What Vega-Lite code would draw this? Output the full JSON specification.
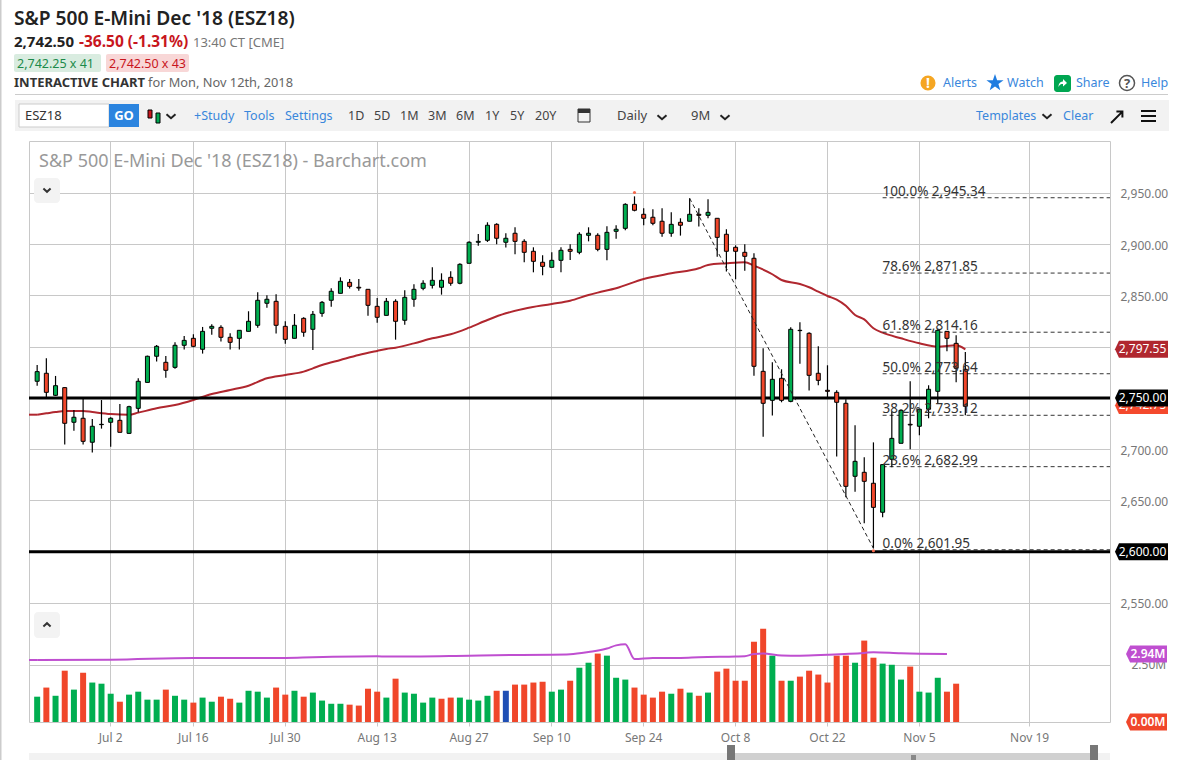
{"$schema":"https://vega.github.io/schema/vega-lite/v6.json","width":1081,"height":581,"autosize":{"type":"none"},"padding":{"left":29,"top":141,"right":72,"bottom":38},"background":"white","config":{"font":"Noto Sans","view":{"stroke":"#c8c8c8"}},
"datasets":{
"bars":[
{"date":"Jun 20","o":2766.3,"h":2782.2,"l":2762.0,"c":2775.7,"v":1.11,"dir":"up","vdir":"up"},
{"date":"Jun 21","o":2774.1,"h":2788.7,"l":2750.6,"c":2755.5,"v":1.51,"dir":"down","vdir":"down"},
{"date":"Jun 22","o":2752.6,"h":2771.5,"l":2752.0,"c":2762.0,"v":1.15,"dir":"up","vdir":"up"},
{"date":"Jun 25","o":2760.1,"h":2760.4,"l":2704.5,"c":2725.3,"v":2.25,"dir":"down","vdir":"down"},
{"date":"Jun 26","o":2726.3,"h":2738.3,"l":2718.1,"c":2731.2,"v":1.42,"dir":"up","vdir":"up"},
{"date":"Jun 27","o":2730.2,"h":2749.7,"l":2704.5,"c":2707.7,"v":2.16,"dir":"down","vdir":"down"},
{"date":"Jun 28","o":2706.8,"h":2729.5,"l":2696.7,"c":2722.4,"v":1.73,"dir":"up","vdir":"up"},
{"date":"Jun 29","o":2724.0,"h":2748.0,"l":2720.1,"c":2724.3,"v":1.68,"dir":"up","vdir":"up"},
{"date":"Jul 2","o":2726.3,"h":2731.2,"l":2702.5,"c":2730.2,"v":1.24,"dir":"up","vdir":"up"},
{"date":"Jul 3","o":2728.2,"h":2744.2,"l":2716.5,"c":2716.5,"v":0.89,"dir":"down","vdir":"down"},
{"date":"Jul 5","o":2715.5,"h":2742.5,"l":2715.2,"c":2741.5,"v":1.20,"dir":"up","vdir":"up"},
{"date":"Jul 6","o":2739.9,"h":2769.2,"l":2736.0,"c":2766.3,"v":1.33,"dir":"up","vdir":"up"},
{"date":"Jul 9","o":2765.2,"h":2791.3,"l":2765.2,"c":2790.7,"v":0.98,"dir":"up","vdir":"up"},
{"date":"Jul 10","o":2790.7,"h":2801.7,"l":2785.5,"c":2800.4,"v":0.98,"dir":"up","vdir":"up"},
{"date":"Jul 11","o":2784.8,"h":2791.0,"l":2769.8,"c":2777.0,"v":1.42,"dir":"down","vdir":"down"},
{"date":"Jul 12","o":2779.9,"h":2804.3,"l":2778.6,"c":2801.4,"v":1.15,"dir":"up","vdir":"up"},
{"date":"Jul 13","o":2801.4,"h":2810.5,"l":2797.2,"c":2806.2,"v":0.98,"dir":"up","vdir":"up"},
{"date":"Jul 16","o":2808.2,"h":2812.1,"l":2799.4,"c":2800.4,"v":0.85,"dir":"down","vdir":"down"},
{"date":"Jul 17","o":2797.5,"h":2819.3,"l":2793.3,"c":2815.0,"v":1.07,"dir":"up","vdir":"up"},
{"date":"Jul 18","o":2818.0,"h":2821.9,"l":2811.8,"c":2819.9,"v":0.89,"dir":"up","vdir":"up"},
{"date":"Jul 19","o":2818.9,"h":2820.9,"l":2805.0,"c":2809.2,"v":1.11,"dir":"down","vdir":"down"},
{"date":"Jul 20","o":2809.2,"h":2813.1,"l":2797.2,"c":2804.3,"v":1.02,"dir":"down","vdir":"down"},
{"date":"Jul 23","o":2808.2,"h":2816.0,"l":2797.2,"c":2816.0,"v":0.85,"dir":"up","vdir":"up"},
{"date":"Jul 24","o":2815.0,"h":2834.6,"l":2815.0,"c":2824.8,"v":1.37,"dir":"up","vdir":"up"},
{"date":"Jul 25","o":2820.9,"h":2853.1,"l":2818.6,"c":2845.3,"v":1.33,"dir":"up","vdir":"up"},
{"date":"Jul 26","o":2842.4,"h":2850.2,"l":2838.1,"c":2846.3,"v":1.07,"dir":"up","vdir":"up"},
{"date":"Jul 27","o":2844.3,"h":2851.1,"l":2812.8,"c":2820.9,"v":1.51,"dir":"down","vdir":"down"},
{"date":"Jul 30","o":2819.9,"h":2824.8,"l":2803.0,"c":2807.2,"v":1.20,"dir":"down","vdir":"down"},
{"date":"Jul 31","o":2808.2,"h":2831.9,"l":2808.2,"c":2820.9,"v":1.37,"dir":"up","vdir":"up"},
{"date":"Aug 1","o":2827.7,"h":2828.7,"l":2809.8,"c":2814.1,"v":1.11,"dir":"down","vdir":"down"},
{"date":"Aug 2","o":2817.0,"h":2834.9,"l":2796.8,"c":2831.6,"v":1.29,"dir":"up","vdir":"up"},
{"date":"Aug 3","o":2832.6,"h":2844.6,"l":2829.3,"c":2843.3,"v":0.94,"dir":"up","vdir":"up"},
{"date":"Aug 6","o":2845.3,"h":2857.0,"l":2839.1,"c":2854.1,"v":0.80,"dir":"up","vdir":"up"},
{"date":"Aug 7","o":2852.1,"h":2867.7,"l":2852.1,"c":2863.8,"v":0.80,"dir":"up","vdir":"up"},
{"date":"Aug 8","o":2862.8,"h":2866.1,"l":2856.7,"c":2858.9,"v":0.76,"dir":"down","vdir":"down"},
{"date":"Aug 9","o":2858.0,"h":2866.1,"l":2854.7,"c":2857.3,"v":0.72,"dir":"down","vdir":"down"},
{"date":"Aug 10","o":2856.0,"h":2856.0,"l":2830.3,"c":2840.4,"v":1.46,"dir":"down","vdir":"down"},
{"date":"Aug 13","o":2839.4,"h":2847.6,"l":2823.5,"c":2828.7,"v":1.33,"dir":"down","vdir":"down"},
{"date":"Aug 14","o":2830.6,"h":2847.6,"l":2830.6,"c":2844.3,"v":1.07,"dir":"up","vdir":"up"},
{"date":"Aug 15","o":2844.3,"h":2846.3,"l":2806.9,"c":2824.8,"v":1.90,"dir":"down","vdir":"down"},
{"date":"Aug 16","o":2825.8,"h":2855.0,"l":2821.5,"c":2848.2,"v":1.29,"dir":"up","vdir":"up"},
{"date":"Aug 17","o":2846.3,"h":2860.9,"l":2839.1,"c":2856.0,"v":1.24,"dir":"up","vdir":"up"},
{"date":"Aug 20","o":2857.0,"h":2864.8,"l":2855.0,"c":2861.9,"v":0.85,"dir":"up","vdir":"up"},
{"date":"Aug 21","o":2859.9,"h":2877.5,"l":2856.7,"c":2864.8,"v":1.07,"dir":"up","vdir":"up"},
{"date":"Aug 22","o":2858.0,"h":2871.6,"l":2850.8,"c":2864.8,"v":1.02,"dir":"up","vdir":"down"},
{"date":"Aug 23","o":2867.7,"h":2873.6,"l":2859.6,"c":2861.9,"v":1.07,"dir":"down","vdir":"down"},
{"date":"Aug 24","o":2861.9,"h":2881.4,"l":2860.9,"c":2880.4,"v":1.07,"dir":"up","vdir":"up"},
{"date":"Aug 27","o":2881.4,"h":2902.8,"l":2881.4,"c":2901.9,"v":0.98,"dir":"up","vdir":"up"},
{"date":"Aug 28","o":2901.9,"h":2910.0,"l":2898.6,"c":2902.8,"v":0.94,"dir":"up","vdir":"up"},
{"date":"Aug 29","o":2903.8,"h":2921.4,"l":2902.2,"c":2918.5,"v":1.15,"dir":"up","vdir":"up"},
{"date":"Aug 30","o":2919.4,"h":2920.4,"l":2899.9,"c":2905.8,"v":1.37,"dir":"down","vdir":"down"},
{"date":"Aug 31","o":2901.9,"h":2910.7,"l":2896.7,"c":2905.8,"v":1.37,"dir":"up","vdir":"flat"},
{"date":"Sep 4","o":2910.7,"h":2916.5,"l":2890.2,"c":2902.8,"v":1.64,"dir":"down","vdir":"down"},
{"date":"Sep 5","o":2902.8,"h":2904.8,"l":2882.4,"c":2892.1,"v":1.64,"dir":"down","vdir":"down"},
{"date":"Sep 6","o":2893.1,"h":2897.0,"l":2872.6,"c":2883.3,"v":1.73,"dir":"down","vdir":"down"},
{"date":"Sep 7","o":2882.4,"h":2889.2,"l":2869.7,"c":2878.4,"v":1.77,"dir":"down","vdir":"down"},
{"date":"Sep 10","o":2877.5,"h":2892.1,"l":2877.5,"c":2884.3,"v":1.33,"dir":"up","vdir":"up"},
{"date":"Sep 11","o":2884.3,"h":2897.0,"l":2872.6,"c":2894.1,"v":1.42,"dir":"up","vdir":"up"},
{"date":"Sep 12","o":2895.0,"h":2899.9,"l":2884.6,"c":2893.1,"v":1.81,"dir":"down","vdir":"down"},
{"date":"Sep 13","o":2892.1,"h":2911.6,"l":2890.2,"c":2909.7,"v":2.38,"dir":"up","vdir":"up"},
{"date":"Sep 14","o":2908.7,"h":2916.5,"l":2902.8,"c":2910.7,"v":2.60,"dir":"up","vdir":"up"},
{"date":"Sep 17","o":2908.7,"h":2910.7,"l":2893.1,"c":2895.0,"v":3.00,"dir":"down","vdir":"down"},
{"date":"Sep 18","o":2895.0,"h":2917.5,"l":2884.3,"c":2911.6,"v":2.91,"dir":"up","vdir":"up"},
{"date":"Sep 19","o":2912.6,"h":2918.5,"l":2905.4,"c":2914.6,"v":1.94,"dir":"up","vdir":"up"},
{"date":"Sep 20","o":2915.5,"h":2939.9,"l":2913.6,"c":2938.9,"v":1.86,"dir":"up","vdir":"up"},
{"date":"Sep 21","o":2938.9,"h":2946.7,"l":2932.1,"c":2933.1,"v":1.51,"dir":"down","vdir":"down"},
{"date":"Sep 24","o":2929.2,"h":2935.0,"l":2918.5,"c":2925.3,"v":1.20,"dir":"down","vdir":"down"},
{"date":"Sep 25","o":2926.3,"h":2934.1,"l":2918.5,"c":2920.4,"v":1.07,"dir":"down","vdir":"down"},
{"date":"Sep 26","o":2922.4,"h":2935.0,"l":2907.4,"c":2910.7,"v":1.33,"dir":"down","vdir":"down"},
{"date":"Sep 27","o":2910.7,"h":2931.1,"l":2907.4,"c":2919.4,"v":1.24,"dir":"up","vdir":"up"},
{"date":"Sep 28","o":2921.4,"h":2925.3,"l":2908.4,"c":2918.5,"v":1.46,"dir":"down","vdir":"down"},
{"date":"Oct 1","o":2922.4,"h":2944.8,"l":2922.4,"c":2929.2,"v":1.29,"dir":"up","vdir":"up"},
{"date":"Oct 2","o":2929.2,"h":2935.0,"l":2917.2,"c":2928.2,"v":1.15,"dir":"down","vdir":"down"},
{"date":"Oct 3","o":2928.2,"h":2943.8,"l":2925.3,"c":2931.1,"v":1.29,"dir":"up","vdir":"up"},
{"date":"Oct 4","o":2925.3,"h":2925.3,"l":2887.9,"c":2906.7,"v":2.21,"dir":"down","vdir":"down"},
{"date":"Oct 5","o":2909.7,"h":2914.6,"l":2873.3,"c":2893.1,"v":2.34,"dir":"down","vdir":"down"},
{"date":"Oct 8","o":2897.0,"h":2898.9,"l":2865.8,"c":2893.1,"v":1.81,"dir":"down","vdir":"down"},
{"date":"Oct 9","o":2892.1,"h":2899.9,"l":2874.2,"c":2888.2,"v":1.81,"dir":"down","vdir":"down"},
{"date":"Oct 10","o":2886.3,"h":2891.1,"l":2771.8,"c":2780.9,"v":3.52,"dir":"down","vdir":"down"},
{"date":"Oct 11","o":2776.0,"h":2798.5,"l":2712.3,"c":2744.8,"v":4.09,"dir":"down","vdir":"down"},
{"date":"Oct 12","o":2747.7,"h":2784.8,"l":2732.8,"c":2768.2,"v":2.91,"dir":"up","vdir":"up"},
{"date":"Oct 15","o":2769.2,"h":2778.0,"l":2745.8,"c":2747.7,"v":1.81,"dir":"down","vdir":"down"},
{"date":"Oct 16","o":2746.7,"h":2819.0,"l":2745.8,"c":2817.0,"v":1.81,"dir":"up","vdir":"up"},
{"date":"Oct 17","o":2815.7,"h":2823.8,"l":2783.5,"c":2816.0,"v":1.99,"dir":"up","vdir":"down"},
{"date":"Oct 18","o":2813.1,"h":2814.1,"l":2757.2,"c":2772.1,"v":2.25,"dir":"down","vdir":"down"},
{"date":"Oct 19","o":2774.1,"h":2800.4,"l":2762.4,"c":2767.2,"v":2.08,"dir":"down","vdir":"down"},
{"date":"Oct 22","o":2757.5,"h":2781.9,"l":2750.6,"c":2756.5,"v":1.73,"dir":"down","vdir":"down"},
{"date":"Oct 23","o":2755.5,"h":2757.5,"l":2692.8,"c":2745.8,"v":2.91,"dir":"down","vdir":"down"},
{"date":"Oct 24","o":2744.8,"h":2748.7,"l":2653.1,"c":2663.8,"v":2.91,"dir":"down","vdir":"down"},
{"date":"Oct 25","o":2673.6,"h":2723.3,"l":2658.6,"c":2688.2,"v":2.60,"dir":"up","vdir":"up"},
{"date":"Oct 26","o":2677.5,"h":2692.1,"l":2627.7,"c":2668.7,"v":3.57,"dir":"down","vdir":"down"},
{"date":"Oct 29","o":2666.8,"h":2706.7,"l":2603.3,"c":2643.3,"v":2.82,"dir":"down","vdir":"down"},
{"date":"Oct 30","o":2638.5,"h":2685.3,"l":2633.6,"c":2685.0,"v":2.56,"dir":"up","vdir":"up"},
{"date":"Oct 31","o":2690.2,"h":2736.7,"l":2682.4,"c":2710.6,"v":2.51,"dir":"up","vdir":"up"},
{"date":"Nov 1","o":2705.8,"h":2739.0,"l":2705.8,"c":2738.0,"v":1.86,"dir":"up","vdir":"up"},
{"date":"Nov 2","o":2724.3,"h":2766.3,"l":2699.9,"c":2723.7,"v":2.43,"dir":"down","vdir":"down"},
{"date":"Nov 5","o":2722.4,"h":2739.0,"l":2713.6,"c":2739.0,"v":1.33,"dir":"up","vdir":"up"},
{"date":"Nov 6","o":2739.0,"h":2762.4,"l":2730.2,"c":2758.5,"v":1.29,"dir":"up","vdir":"up"},
{"date":"Nov 7","o":2756.5,"h":2817.0,"l":2744.8,"c":2816.0,"v":1.94,"dir":"up","vdir":"up"},
{"date":"Nov 8","o":2815.0,"h":2815.0,"l":2795.5,"c":2808.2,"v":1.33,"dir":"down","vdir":"down"},
{"date":"Nov 9","o":2803.3,"h":2811.1,"l":2765.3,"c":2779.0,"v":1.68,"dir":"down","vdir":"down"},
{"date":"Nov 12","o":2778.0,"h":2794.9,"l":2733.1,"c":2741.9,"v":null,"dir":"down","vdir":"down"}
],
"priceMA":[
{"date":"Jun 20","ma":2733.7},{"date":"Jun 21","ma":2735.0},{"date":"Jun 22","ma":2736.3},{"date":"Jun 25","ma":2737.3},{"date":"Jun 27","ma":2737.3},{"date":"Jun 28","ma":2736.3},{"date":"Jul 2","ma":2734.4},{"date":"Jul 5","ma":2733.7},{"date":"Jul 6","ma":2735.7},{"date":"Jul 10","ma":2739.9},{"date":"Jul 12","ma":2743.2},{"date":"Jul 16","ma":2748.1},{"date":"Jul 18","ma":2753.9},{"date":"Jul 20","ma":2757.8},{"date":"Jul 24","ma":2762.0},{"date":"Jul 26","ma":2769.2},{"date":"Jul 30","ma":2772.4},{"date":"Aug 1","ma":2775.7},{"date":"Aug 2","ma":2778.9},{"date":"Aug 3","ma":2782.2},{"date":"Aug 7","ma":2787.1},{"date":"Aug 9","ma":2791.9},{"date":"Aug 13","ma":2795.9},{"date":"Aug 14","ma":2797.8},{"date":"Aug 15","ma":2799.1},{"date":"Aug 17","ma":2803.3},{"date":"Aug 21","ma":2808.2},{"date":"Aug 23","ma":2812.1},{"date":"Aug 27","ma":2818.6},{"date":"Aug 29","ma":2826.1},{"date":"Aug 31","ma":2832.6},{"date":"Sep 5","ma":2837.1},{"date":"Sep 10","ma":2841.7},{"date":"Sep 12","ma":2844.9},{"date":"Sep 14","ma":2850.5},{"date":"Sep 17","ma":2852.8},{"date":"Sep 19","ma":2857.0},{"date":"Sep 24","ma":2866.1},{"date":"Sep 27","ma":2871.6},{"date":"Oct 2","ma":2876.5},{"date":"Oct 3","ma":2879.8},{"date":"Oct 5","ma":2881.4},{"date":"Oct 9","ma":2882.4},{"date":"Oct 10","ma":2879.1},{"date":"Oct 12","ma":2870.7},{"date":"Oct 15","ma":2865.1},{"date":"Oct 17","ma":2861.2},{"date":"Oct 18","ma":2858.0},{"date":"Oct 19","ma":2853.7},{"date":"Oct 22","ma":2849.5},{"date":"Oct 23","ma":2846.0},{"date":"Oct 24","ma":2840.0},{"date":"Oct 25","ma":2831.0},{"date":"Oct 26","ma":2826.7},{"date":"Oct 29","ma":2818.0},{"date":"Oct 30","ma":2813.7},{"date":"Nov 1","ma":2808.2},{"date":"Nov 5","ma":2803.3},{"date":"Nov 7","ma":2800.1},{"date":"Nov 9","ma":2801.4},{"date":"Nov 12","ma":2797.5}
],
"volMA":[
{"date":"Jun 20","vma":2.72},{"date":"Jul 2","vma":2.73},{"date":"Jul 16","vma":2.81},{"date":"Jul 30","vma":2.81},{"date":"Aug 2","vma":2.84},{"date":"Aug 13","vma":2.88},{"date":"Aug 14","vma":2.87},{"date":"Aug 27","vma":2.91},{"date":"Sep 4","vma":2.94},{"date":"Sep 10","vma":2.95},{"date":"Sep 12","vma":2.97},{"date":"Sep 14","vma":3.07},{"date":"Sep 18","vma":3.22},{"date":"Sep 19","vma":3.36},{"date":"Sep 20","vma":3.41},{"date":"Sep 21","vma":2.76},{"date":"Sep 25","vma":2.81},{"date":"Sep 28","vma":2.81},{"date":"Oct 2","vma":2.84},{"date":"Oct 8","vma":2.87},{"date":"Oct 9","vma":2.88},{"date":"Oct 10","vma":2.98},{"date":"Oct 11","vma":3.00},{"date":"Oct 15","vma":2.92},{"date":"Oct 17","vma":2.91},{"date":"Oct 22","vma":2.95},{"date":"Oct 26","vma":3.03},{"date":"Oct 29","vma":3.06},{"date":"Nov 1","vma":3.01},{"date":"Nov 8","vma":2.98}
],
"levels":[{"p":2750},{"p":2600}],
"fib":[
{"date":"Oct 30","p":2945.34,"label":"100.0% 2,945.34"},
{"date":"Oct 30","p":2871.85,"label":"78.6% 2,871.85"},
{"date":"Oct 30","p":2814.16,"label":"61.8% 2,814.16"},
{"date":"Oct 30","p":2773.64,"label":"50.0% 2,773.64"},
{"date":"Oct 30","p":2733.12,"label":"38.2% 2,733.12"},
{"date":"Oct 30","p":2682.99,"label":"23.6% 2,682.99"},
{"date":"Oct 30","p":2601.95,"label":"0.0% 2,601.95"}
],
"trend":[{"date":"Oct 1","p":2944.8},{"date":"Oct 29","p":2603.3}],
"extremes":[{"date":"Sep 21","p":2950.5},{"date":"Oct 29","p":2601.0}]
},
"layer":[
{"encoding":{"x":{"field":"date","type":"ordinal","title":null,"scale":{"type":"band","paddingInner":0,"paddingOuter":0.815,"align":0.238,"domain":["Jun 20","Jun 21","Jun 22","Jun 25","Jun 26","Jun 27","Jun 28","Jun 29","Jul 2","Jul 3","Jul 5","Jul 6","Jul 9","Jul 10","Jul 11","Jul 12","Jul 13","Jul 16","Jul 17","Jul 18","Jul 19","Jul 20","Jul 23","Jul 24","Jul 25","Jul 26","Jul 27","Jul 30","Jul 31","Aug 1","Aug 2","Aug 3","Aug 6","Aug 7","Aug 8","Aug 9","Aug 10","Aug 13","Aug 14","Aug 15","Aug 16","Aug 17","Aug 20","Aug 21","Aug 22","Aug 23","Aug 24","Aug 27","Aug 28","Aug 29","Aug 30","Aug 31","Sep 4","Sep 5","Sep 6","Sep 7","Sep 10","Sep 11","Sep 12","Sep 13","Sep 14","Sep 17","Sep 18","Sep 19","Sep 20","Sep 21","Sep 24","Sep 25","Sep 26","Sep 27","Sep 28","Oct 1","Oct 2","Oct 3","Oct 4","Oct 5","Oct 8","Oct 9","Oct 10","Oct 11","Oct 12","Oct 15","Oct 16","Oct 17","Oct 18","Oct 19","Oct 22","Oct 23","Oct 24","Oct 25","Oct 26","Oct 29","Oct 30","Oct 31","Nov 1","Nov 2","Nov 5","Nov 6","Nov 7","Nov 8","Nov 9","Nov 12","Nov 13","Nov 14","Nov 15","Nov 16","Nov 17","Nov 18","Nov 19","Nov 20","Nov 21","Nov 22","Nov 23","Nov 24","Nov 25","Nov 26"]},
"axis":{"values":["Jul 2","Jul 16","Jul 30","Aug 13","Aug 27","Sep 10","Sep 24","Oct 8","Oct 22","Nov 5","Nov 19"],"grid":true,"gridColor":"#c8c8c8","domain":false,"tickColor":"#c8c8c8","tickSize":4,"labelAngle":0,"labelColor":"#777777","labelFontSize":12,"labelPadding":6,"labelOverlap":false,"title":null}}},
"resolve":{"scale":{"y":"independent"},"axis":{"y":"independent"}},
"layer":[
{"data":{"name":"bars"},"transform":[{"filter":"isValid(datum.v)"}],"mark":{"type":"bar","size":6},"encoding":{"y":{"field":"v","type":"quantitative","title":null,"scale":{"domain":[0,25.48],"nice":false,"zero":false},"axis":{"values":[2.5],"grid":true,"gridColor":"#c8c8c8","domain":false,"ticks":false,"orient":"right","labelExpr":"format(datum.value,'.2f')+'M'","labelColor":"#777777","labelFontSize":12,"labelPadding":21,"title":null}},"color":{"field":"vdir","type":"nominal","legend":null,"scale":{"domain":["up","down","flat"],"range":["#00ae50","#f0462a","#1f4fb5"]}}}},
{"data":{"name":"volMA"},"mark":{"type":"line","stroke":"#bf4fd0","strokeWidth":2,"interpolate":"monotone"},"encoding":{"order":{"value":null},"y":{"field":"vma","type":"quantitative","scale":{"domain":[0,25.48],"nice":false,"zero":false},"axis":null}}},
{"data":{"values":[{"date":"Jun 20","vma":2.72}]},"mark":{"type":"rule","stroke":"#bf4fd0","strokeWidth":2},"encoding":{"x2":{"value":0},"y":{"field":"vma","type":"quantitative","scale":{"domain":[0,25.48],"nice":false,"zero":false},"axis":null}}},
{"data":{"name":"priceMA"},"mark":{"type":"line","stroke":"#b0272f","strokeWidth":2,"interpolate":"monotone"},"encoding":{"order":{"value":null},"y":{"field":"ma","type":"quantitative","scale":{"domain":[2433.9,3000.7],"nice":false,"zero":false},"axis":{"values":[2550,2600,2650,2700,2750,2800,2850,2900,2950],"format":",.2f","grid":true,"gridColor":"#c8c8c8","domain":false,"ticks":false,"orient":"right","labelColor":"#777777","labelFontSize":12,"labelPadding":10,"labelOffset":1,"title":null}}}},
{"data":{"values":[{"date":"Jun 20","ma":2733.7}]},"mark":{"type":"rule","stroke":"#b0272f","strokeWidth":2},"encoding":{"x2":{"value":0},"y":{"field":"ma","type":"quantitative","scale":{"domain":[2433.9,3000.7],"nice":false,"zero":false},"axis":null}}},
{"data":{"name":"fib"},"mark":{"type":"rule","stroke":"#333333","strokeWidth":1,"strokeDash":[4,3]},"encoding":{"x2":{"value":1081},"y":{"field":"p","type":"quantitative","scale":{"domain":[2433.9,3000.7],"nice":false,"zero":false},"axis":null}}},
{"data":{"name":"levels"},"mark":{"type":"rule","stroke":"#000000","strokeWidth":3},"encoding":{"x":null,"y":{"field":"p","type":"quantitative","scale":{"domain":[2433.9,3000.7],"nice":false,"zero":false},"axis":null}}},
{"data":{"name":"extremes"},"mark":{"type":"point","filled":true,"size":10,"color":"#f4694d","opacity":1},"encoding":{"y":{"field":"p","type":"quantitative","scale":{"domain":[2433.9,3000.7],"nice":false,"zero":false},"axis":null}}},
{"data":{"name":"bars"},"mark":{"type":"rule","stroke":"#000000","strokeWidth":1.2},"encoding":{"y":{"field":"l","type":"quantitative","scale":{"domain":[2433.9,3000.7],"nice":false,"zero":false},"axis":null},"y2":{"field":"h"}}},
{"data":{"name":"bars"},"mark":{"type":"bar","size":4,"stroke":"#000000","strokeWidth":1},"encoding":{"y":{"field":"o","type":"quantitative","scale":{"domain":[2433.9,3000.7],"nice":false,"zero":false},"axis":null},"y2":{"field":"c"},"color":{"field":"dir","type":"nominal","legend":null,"scale":{"domain":["up","down","flat"],"range":["#00ae50","#f0462a","#1f4fb5"]}}}},
{"data":{"name":"trend"},"mark":{"type":"line","stroke":"#222222","strokeWidth":1,"strokeDash":[4,3]},"encoding":{"order":{"value":null},"y":{"field":"p","type":"quantitative","scale":{"domain":[2433.9,3000.7],"nice":false,"zero":false},"axis":null}}},
{"data":{"name":"fib"},"mark":{"type":"text","align":"left","baseline":"middle","dy":-6,"fontSize":13.5,"color":"#333333"},"encoding":{"text":{"field":"label"},"y":{"field":"p","type":"quantitative","scale":{"domain":[2433.9,3000.7],"nice":false,"zero":false},"axis":null}}},
{"data":{"values":[{"label":"2,742.75","p":2742.75}]},"mark":{"type":"point","filled":true,"opacity":1,"size":2809,"fill":"#f4492d","stroke":null,"shape":"M-1,0 L-0.85,-0.32 L1,-0.32 L1,0.32 L-0.85,0.32 Z"},"encoding":{"x":{"value":1112.5},"y":{"field":"p","type":"quantitative","scale":{"domain":[2433.9,3000.7],"nice":false,"zero":false},"axis":null}}},
{"data":{"values":[{"label":"2,742.75","p":2742.75}]},"mark":{"type":"text","fontSize":12,"color":"white"},"encoding":{"x":{"value":1113.5},"text":{"field":"label"},"y":{"field":"p","type":"quantitative","scale":{"domain":[2433.9,3000.7],"nice":false,"zero":false},"axis":null}}},
{"data":{"values":[{"label":"2,750.00","p":2750}]},"mark":{"type":"point","filled":true,"opacity":1,"size":2809,"fill":"#000000","stroke":null,"shape":"M-1,0 L-0.85,-0.32 L1,-0.32 L1,0.32 L-0.85,0.32 Z"},"encoding":{"x":{"value":1112.5},"y":{"field":"p","type":"quantitative","scale":{"domain":[2433.9,3000.7],"nice":false,"zero":false},"axis":null}}},
{"data":{"values":[{"label":"2,750.00","p":2750}]},"mark":{"type":"text","fontSize":12,"color":"white"},"encoding":{"x":{"value":1113.5},"text":{"field":"label"},"y":{"field":"p","type":"quantitative","scale":{"domain":[2433.9,3000.7],"nice":false,"zero":false},"axis":null}}},
{"data":{"values":[{"label":"2,797.55","p":2797.55}]},"mark":{"type":"point","filled":true,"opacity":1,"size":2809,"fill":"#b0272f","stroke":null,"shape":"M-1,0 L-0.85,-0.32 L1,-0.32 L1,0.32 L-0.85,0.32 Z"},"encoding":{"x":{"value":1112.5},"y":{"field":"p","type":"quantitative","scale":{"domain":[2433.9,3000.7],"nice":false,"zero":false},"axis":null}}},
{"data":{"values":[{"label":"2,797.55","p":2797.55}]},"mark":{"type":"text","fontSize":12,"color":"white"},"encoding":{"x":{"value":1113.5},"text":{"field":"label"},"y":{"field":"p","type":"quantitative","scale":{"domain":[2433.9,3000.7],"nice":false,"zero":false},"axis":null}}},
{"data":{"values":[{"label":"2,600.00","p":2600}]},"mark":{"type":"point","filled":true,"opacity":1,"size":2809,"fill":"#000000","stroke":null,"shape":"M-1,0 L-0.85,-0.32 L1,-0.32 L1,0.32 L-0.85,0.32 Z"},"encoding":{"x":{"value":1112.5},"y":{"field":"p","type":"quantitative","scale":{"domain":[2433.9,3000.7],"nice":false,"zero":false},"axis":null}}},
{"data":{"values":[{"label":"2,600.00","p":2600}]},"mark":{"type":"text","fontSize":12,"color":"white"},"encoding":{"x":{"value":1113.5},"text":{"field":"label"},"y":{"field":"p","type":"quantitative","scale":{"domain":[2433.9,3000.7],"nice":false,"zero":false},"axis":null}}},
{"data":{"values":[{"label":"2.94M","v":2.98}]},"mark":{"type":"point","filled":true,"opacity":1,"size":1681,"fill":"#bf4fd0","stroke":null,"shape":"M-1,0 L-0.8,-0.415 L1,-0.415 L1,0.415 L-0.8,0.415 Z"},"encoding":{"x":{"value":1117.5},"y":{"field":"v","type":"quantitative","scale":{"domain":[0,25.48],"nice":false,"zero":false},"axis":null}}},
{"data":{"values":[{"label":"2.94M","v":2.98}]},"mark":{"type":"text","fontSize":12,"color":"white","fontWeight":600},"encoding":{"x":{"value":1119},"text":{"field":"label"},"y":{"field":"v","type":"quantitative","scale":{"domain":[0,25.48],"nice":false,"zero":false},"axis":null}}},
{"data":{"values":[{"label":"0.00M","v":0}]},"mark":{"type":"point","filled":true,"opacity":1,"size":1681,"fill":"#f0462a","stroke":null,"shape":"M-1,0 L-0.8,-0.415 L1,-0.415 L1,0.415 L-0.8,0.415 Z"},"encoding":{"x":{"value":1117.5},"y":{"field":"v","type":"quantitative","scale":{"domain":[0,25.48],"nice":false,"zero":false},"axis":null}}},
{"data":{"values":[{"label":"0.00M","v":0}]},"mark":{"type":"text","fontSize":12,"color":"white","fontWeight":600},"encoding":{"x":{"value":1119},"text":{"field":"label"},"y":{"field":"v","type":"quantitative","scale":{"domain":[0,25.48],"nice":false,"zero":false},"axis":null}}}
]},
{"data":{"values":[{}]},"mark":{"type":"text","text":"S&P 500 E-Mini Dec '18 (ESZ18) - Barchart.com","x":10,"y":26,"align":"left","baseline":"alphabetic","fontSize":18,"color":"#999999"},"encoding":{}},
{"data":{"values":[{}]},"mark":{"type":"rect","x":-29,"x2":-27.5,"y":-141,"y2":619,"fill":"#cccccc"},"encoding":{}},
{"data":{"values":[{}]},"mark":{"type":"text","text":"S&P 500 E-Mini Dec '18 (ESZ18)","x":-15,"y":-116,"align":"left","baseline":"alphabetic","fontSize":19.2,"fontWeight":600,"color":"#222222"},"encoding":{}},
{"data":{"values":[{}]},"mark":{"type":"text","text":"2,742.50","x":-15,"y":-94,"align":"left","baseline":"alphabetic","fontSize":15,"fontWeight":700,"color":"#222222"},"encoding":{}},
{"data":{"values":[{}]},"mark":{"type":"text","text":"-36.50 (-1.31%)","x":50,"y":-94,"align":"left","baseline":"alphabetic","fontSize":15.5,"fontWeight":700,"color":"#c8161d"},"encoding":{}},
{"data":{"values":[{}]},"mark":{"type":"text","text":"13:40 CT [CME]","x":164,"y":-94,"align":"left","baseline":"alphabetic","fontSize":13,"color":"#777777"},"encoding":{}},
{"data":{"values":[{}]},"mark":{"type":"rect","x":-15,"x2":72,"y":-87,"y2":-69,"fill":"#d9ece0","cornerRadius":2},"encoding":{}},
{"data":{"values":[{}]},"mark":{"type":"text","text":"2,742.25 x 41","x":-12,"y":-73,"align":"left","baseline":"alphabetic","fontSize":12.5,"color":"#1c8a4a"},"encoding":{}},
{"data":{"values":[{}]},"mark":{"type":"rect","x":77,"x2":160,"y":-87,"y2":-69,"fill":"#f8d7d7","cornerRadius":2},"encoding":{}},
{"data":{"values":[{}]},"mark":{"type":"text","text":"2,742.50 x 43","x":80,"y":-73,"align":"left","baseline":"alphabetic","fontSize":12.5,"color":"#c8161d"},"encoding":{}},
{"data":{"values":[{}]},"mark":{"type":"text","text":"INTERACTIVE CHART","x":-15,"y":-54,"align":"left","baseline":"alphabetic","fontSize":13,"fontWeight":700,"color":"#333333"},"encoding":{}},
{"data":{"values":[{}]},"mark":{"type":"text","text":"for Mon, Nov 12th, 2018","x":119,"y":-54,"align":"left","baseline":"alphabetic","fontSize":12.8,"color":"#666666"},"encoding":{}},
{"data":{"values":[{}]},"mark":{"type":"rect","x":-14,"x2":1139,"y":-47,"y2":-46,"fill":"#cccccc"},"encoding":{}},
{"data":{"values":[{}]},"mark":{"type":"rect","x":-14,"x2":1140,"y":-41,"y2":-10,"fill":"#f2f2f2"},"encoding":{}},
{"data":{"values":[{}]},"mark":{"type":"rect","x":-10,"x2":80,"y":-37,"y2":-14,"fill":"#ffffff","stroke":"#cccccc"},"encoding":{}},
{"data":{"values":[{}]},"mark":{"type":"text","text":"ESZ18","x":-4,"y":-21,"align":"left","baseline":"alphabetic","fontSize":13,"color":"#333333"},"encoding":{}},
{"data":{"values":[{}]},"mark":{"type":"rect","x":80,"x2":110,"y":-37,"y2":-14,"fill":"#2b84df"},"encoding":{}},
{"data":{"values":[{}]},"mark":{"type":"text","text":"GO","x":95,"y":-21,"align":"center","baseline":"alphabetic","fontSize":13,"fontWeight":700,"color":"#ffffff"},"encoding":{}},
{"data":{"values":[{}]},"mark":{"type":"rule","x":121,"y":-33,"y2":-19,"stroke":"#000000"},"encoding":{}},
{"data":{"values":[{}]},"mark":{"type":"rect","x":119,"x2":123,"y":-31,"y2":-23,"fill":"#c8161d","stroke":"#000000"},"encoding":{}},
{"data":{"values":[{}]},"mark":{"type":"rule","x":129,"y":-31,"y2":-17,"stroke":"#000000"},"encoding":{}},
{"data":{"values":[{}]},"mark":{"type":"rect","x":127,"x2":131,"y":-28,"y2":-18,"fill":"#00a651","stroke":"#000000"},"encoding":{}},
{"data":{"values":[{}]},"mark":{"type":"point","x":142,"y":-25,"size":100,"opacity":1,"filled":false,"stroke":"#222222","strokeWidth":2,"shape":"M-0.9,-0.35 L0,0.45 L0.9,-0.35"},"encoding":{}},
{"data":{"values":[{}]},"mark":{"type":"rule","x":161,"y":-37,"y2":-12,"stroke":"#cccccc"},"encoding":{}},
{"data":{"values":[{}]},"mark":{"type":"rule","x":211,"y":-37,"y2":-12,"stroke":"#cccccc"},"encoding":{}},
{"data":{"values":[{}]},"mark":{"type":"rule","x":252,"y":-37,"y2":-12,"stroke":"#cccccc"},"encoding":{}},
{"data":{"values":[{}]},"mark":{"type":"rule","x":310,"y":-37,"y2":-12,"stroke":"#cccccc"},"encoding":{}},
{"data":{"values":[{}]},"mark":{"type":"rule","x":537,"y":-37,"y2":-12,"stroke":"#cccccc"},"encoding":{}},
{"data":{"values":[{}]},"mark":{"type":"rule","x":574,"y":-37,"y2":-12,"stroke":"#cccccc"},"encoding":{}},
{"data":{"values":[{}]},"mark":{"type":"rule","x":651,"y":-37,"y2":-12,"stroke":"#cccccc"},"encoding":{}},
{"data":{"values":[{}]},"mark":{"type":"rule","x":1030,"y":-37,"y2":-12,"stroke":"#cccccc"},"encoding":{}},
{"data":{"values":[{}]},"mark":{"type":"rule","x":1070,"y":-37,"y2":-12,"stroke":"#cccccc"},"encoding":{}},
{"data":{"values":[{}]},"mark":{"type":"text","text":"+Study","x":165,"y":-21,"align":"left","baseline":"alphabetic","fontSize":12.5,"color":"#3a87dc"},"encoding":{}},
{"data":{"values":[{}]},"mark":{"type":"text","text":"Tools","x":215,"y":-21,"align":"left","baseline":"alphabetic","fontSize":12.5,"color":"#3a87dc"},"encoding":{}},
{"data":{"values":[{}]},"mark":{"type":"text","text":"Settings","x":256,"y":-21,"align":"left","baseline":"alphabetic","fontSize":12.5,"color":"#3a87dc"},"encoding":{}},
{"data":{"values":[{}]},"mark":{"type":"text","text":"1D","x":319,"y":-21,"align":"left","baseline":"alphabetic","fontSize":12.5,"color":"#444444"},"encoding":{}},
{"data":{"values":[{}]},"mark":{"type":"text","text":"5D","x":345,"y":-21,"align":"left","baseline":"alphabetic","fontSize":12.5,"color":"#444444"},"encoding":{}},
{"data":{"values":[{}]},"mark":{"type":"text","text":"1M","x":371,"y":-21,"align":"left","baseline":"alphabetic","fontSize":12.5,"color":"#444444"},"encoding":{}},
{"data":{"values":[{}]},"mark":{"type":"text","text":"3M","x":399,"y":-21,"align":"left","baseline":"alphabetic","fontSize":12.5,"color":"#444444"},"encoding":{}},
{"data":{"values":[{}]},"mark":{"type":"text","text":"6M","x":427,"y":-21,"align":"left","baseline":"alphabetic","fontSize":12.5,"color":"#444444"},"encoding":{}},
{"data":{"values":[{}]},"mark":{"type":"text","text":"1Y","x":456,"y":-21,"align":"left","baseline":"alphabetic","fontSize":12.5,"color":"#444444"},"encoding":{}},
{"data":{"values":[{}]},"mark":{"type":"text","text":"5Y","x":481,"y":-21,"align":"left","baseline":"alphabetic","fontSize":12.5,"color":"#444444"},"encoding":{}},
{"data":{"values":[{}]},"mark":{"type":"text","text":"20Y","x":506,"y":-21,"align":"left","baseline":"alphabetic","fontSize":12.5,"color":"#444444"},"encoding":{}},
{"data":{"values":[{}]},"mark":{"type":"rect","x":549,"x2":561,"y":-32,"y2":-19,"fill":"#f2f2f2","stroke":"#333333"},"encoding":{}},
{"data":{"values":[{}]},"mark":{"type":"rect","x":549,"x2":561,"y":-32,"y2":-28,"fill":"#333333"},"encoding":{}},
{"data":{"values":[{}]},"mark":{"type":"rule","x":555,"y":-28,"y2":-19,"stroke":"#888888"},"encoding":{}},
{"data":{"values":[{}]},"mark":{"type":"rule","x":549,"x2":561,"y":-24,"stroke":"#888888"},"encoding":{}},
{"data":{"values":[{}]},"mark":{"type":"text","text":"Daily","x":588,"y":-21,"align":"left","baseline":"alphabetic","fontSize":13,"color":"#444444"},"encoding":{}},
{"data":{"values":[{}]},"mark":{"type":"point","x":633,"y":-24,"size":100,"opacity":1,"filled":false,"stroke":"#222222","strokeWidth":2,"shape":"M-0.9,-0.35 L0,0.45 L0.9,-0.35"},"encoding":{}},
{"data":{"values":[{}]},"mark":{"type":"text","text":"9M","x":662,"y":-21,"align":"left","baseline":"alphabetic","fontSize":13,"color":"#444444"},"encoding":{}},
{"data":{"values":[{}]},"mark":{"type":"point","x":696,"y":-24,"size":100,"opacity":1,"filled":false,"stroke":"#222222","strokeWidth":2,"shape":"M-0.9,-0.35 L0,0.45 L0.9,-0.35"},"encoding":{}},
{"data":{"values":[{}]},"mark":{"type":"text","text":"Templates","x":947,"y":-21,"align":"left","baseline":"alphabetic","fontSize":12.5,"color":"#3a87dc"},"encoding":{}},
{"data":{"values":[{}]},"mark":{"type":"point","x":1018,"y":-25,"size":100,"opacity":1,"filled":false,"stroke":"#222222","strokeWidth":2,"shape":"M-0.9,-0.35 L0,0.45 L0.9,-0.35"},"encoding":{}},
{"data":{"values":[{}]},"mark":{"type":"text","text":"Clear","x":1034,"y":-21,"align":"left","baseline":"alphabetic","fontSize":12.5,"color":"#3a87dc"},"encoding":{}},
{"data":{"values":[{}]},"mark":{"type":"point","x":1088,"y":-24,"size":144,"opacity":1,"filled":false,"stroke":"#111111","strokeWidth":2,"shape":"M-1,1 L0.9,-0.9 M-0.1,-0.9 L0.9,-0.9 L0.9,0.1"},"encoding":{}},
{"data":{"values":[{}]},"mark":{"type":"rect","x":1112,"x2":1127,"y":-31,"y2":-29,"fill":"#111111"},"encoding":{}},
{"data":{"values":[{}]},"mark":{"type":"rect","x":1112,"x2":1127,"y":-26,"y2":-24,"fill":"#111111"},"encoding":{}},
{"data":{"values":[{}]},"mark":{"type":"rect","x":1112,"x2":1127,"y":-21,"y2":-19,"fill":"#111111"},"encoding":{}},
{"data":{"values":[{}]},"mark":{"type":"point","x":899,"y":-58,"size":227,"opacity":1,"filled":true,"fill":"#f5a623","stroke":null,"shape":"circle"},"encoding":{}},
{"data":{"values":[{}]},"mark":{"type":"text","text":"!","x":899,"y":-53,"align":"center","baseline":"alphabetic","fontSize":14,"fontWeight":700,"color":"#ffffff"},"encoding":{}},
{"data":{"values":[{}]},"mark":{"type":"text","text":"Alerts","x":914,"y":-54,"align":"left","baseline":"alphabetic","fontSize":12.5,"color":"#3a87dc"},"encoding":{}},
{"data":{"values":[{}]},"mark":{"type":"point","x":966,"y":-58,"size":324,"opacity":1,"filled":true,"fill":"#1f7ce0","stroke":null,"shape":"M0,-1 L0.235,-0.309 L0.951,-0.309 L0.378,0.118 L0.588,0.809 L0,0.382 L-0.588,0.809 L-0.378,0.118 L-0.951,-0.309 L-0.235,-0.309 Z"},"encoding":{}},
{"data":{"values":[{}]},"mark":{"type":"text","text":"Watch","x":978,"y":-54,"align":"left","baseline":"alphabetic","fontSize":12.5,"color":"#3a87dc"},"encoding":{}},
{"data":{"values":[{}]},"mark":{"type":"rect","x":1025,"x2":1042,"y":-66,"y2":-49,"fill":"#00a651","cornerRadius":3},"encoding":{}},
{"data":{"values":[{}]},"mark":{"type":"point","x":1033,"y":-58,"size":100,"opacity":1,"filled":true,"fill":"#ffffff","stroke":null,"shape":"M-0.7,0.8 C-0.7,-0.1 -0.1,-0.3 0.2,-0.3 L0.2,-0.8 L1,0 L0.2,0.7 L0.2,0.2 C-0.2,0.2 -0.5,0.3 -0.7,0.8 Z"},"encoding":{}},
{"data":{"values":[{}]},"mark":{"type":"text","text":"Share","x":1047,"y":-54,"align":"left","baseline":"alphabetic","fontSize":12.5,"color":"#3a87dc"},"encoding":{}},
{"data":{"values":[{}]},"mark":{"type":"point","x":1098,"y":-58,"size":227,"opacity":1,"filled":false,"stroke":"#555555","strokeWidth":1.5,"shape":"circle"},"encoding":{}},
{"data":{"values":[{}]},"mark":{"type":"text","text":"?","x":1098,"y":-53,"align":"center","baseline":"alphabetic","fontSize":13,"fontWeight":700,"color":"#555555"},"encoding":{}},
{"data":{"values":[{}]},"mark":{"type":"text","text":"Help","x":1112,"y":-54,"align":"left","baseline":"alphabetic","fontSize":12.5,"color":"#3a87dc"},"encoding":{}},
{"data":{"values":[{}]},"mark":{"type":"rect","x":5,"x2":31,"y":37,"y2":62,"fill":"#f3f3f3","cornerRadius":4},"encoding":{}},
{"data":{"values":[{}]},"mark":{"type":"point","x":18,"y":49,"size":64,"opacity":1,"filled":false,"stroke":"#333333","strokeWidth":2,"shape":"M-0.9,-0.35 L0,0.45 L0.9,-0.35"},"encoding":{}},
{"data":{"values":[{}]},"mark":{"type":"rect","x":5,"x2":31,"y":471,"y2":497,"fill":"#f3f3f3","cornerRadius":4},"encoding":{}},
{"data":{"values":[{}]},"mark":{"type":"point","x":18,"y":484,"size":64,"opacity":1,"filled":false,"stroke":"#333333","strokeWidth":2,"shape":"M-0.9,0.35 L0,-0.45 L0.9,0.35"},"encoding":{}},
{"data":{"values":[{}]},"mark":{"type":"rect","x":0,"x2":1081,"y":612,"y2":619,"fill":"#f2f2f2"},"encoding":{}},
{"data":{"values":[{}]},"mark":{"type":"rect","x":706,"x2":1061,"y":612,"y2":619,"fill":"#d0d0d0"},"encoding":{}},
{"data":{"values":[{}]},"mark":{"type":"rect","x":698,"x2":706,"y":604,"y2":619,"fill":"#777777"},"encoding":{}},
{"data":{"values":[{}]},"mark":{"type":"rect","x":1061,"x2":1069,"y":604,"y2":619,"fill":"#777777"},"encoding":{}},
{"data":{"values":[{}]},"mark":{"type":"rule","x":702,"y":608,"y2":616,"stroke":"#ffffff"},"encoding":{}},
{"data":{"values":[{}]},"mark":{"type":"rule","x":1065,"y":608,"y2":616,"stroke":"#ffffff"},"encoding":{}},
{"data":{"values":[{}]},"mark":{"type":"rect","x":882,"x2":887,"y":614,"y2":619,"fill":"#888888"},"encoding":{}}
]}
